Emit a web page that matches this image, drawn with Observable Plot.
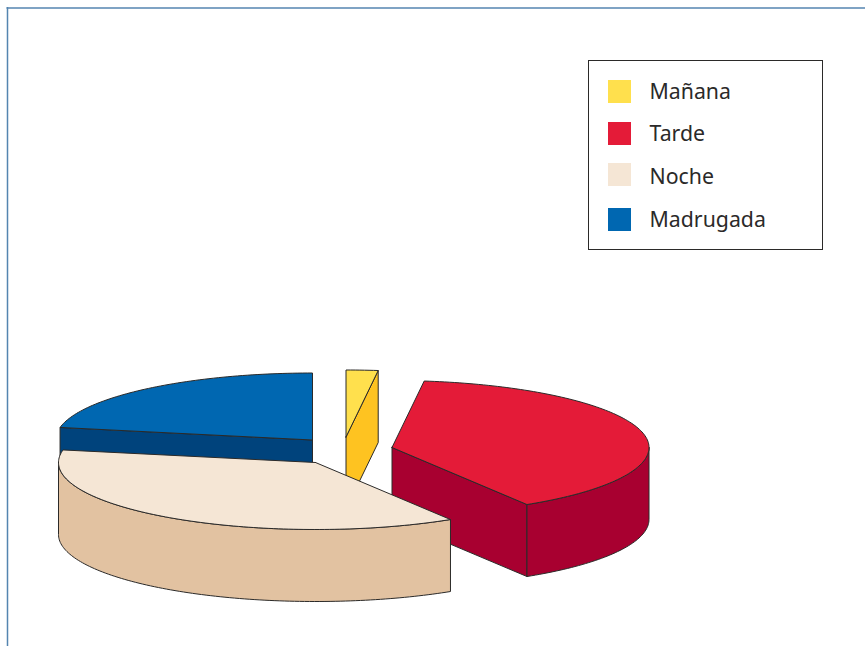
<!DOCTYPE html>
<html lang="es">
<head>
<meta charset="utf-8">
<script src="https://cdn.jsdelivr.net/npm/d3@7"></script>
<script src="https://cdn.jsdelivr.net/npm/@observablehq/plot@0.6"></script>
<style>
  html, body { margin: 0; padding: 0; background: #fff; }
  svg { display: block; }
</style>
</head>
<body>
<div id="chart"></div>
<script>
// Data
const categories = ["Mañana", "Tarde", "Noche", "Madrugada"];
const shares = [2, 39.2, 36.8, 22];

// Styles
const topColors = ["#ffe04d", "#e41b38", "#f5e6d5", "#0067b1"];
const sideColors = ["#fec321", "#a80030", "#e2c2a1", "#00437c"];
const ink = "#2b2a29";
const frameColor = "#5485b0";

// Pie layout: where each exploded slice's apex sits, ellipse radii and rim depth
const apexX = [345.5, 391.5, 315, 312];
const apexY = [436.5, 447, 462, 439.5];
const rx = 257, ry = 67, depth = 72;
const paintOrder = [0, 3, 1, 2];

// Legend layout
const legendBox = {x1: 588.5, x2: 822.5, y1: 60.5, y2: 249.5};
const swatchX = 608, swatchSize = 23;
const swatchY = [80, 122, 163, 208];
const labelX = 649;
const labelY = [91.5, 133.5, 176.5, 219.5];

// Slice angles from the shares (clockwise from 12 o'clock)
let running = 0;
const slices = categories.map((name, i) => {
  const a0 = running / 100 * 2 * Math.PI;
  running += shares[i];
  return {name, i, a0, a1: running / 100 * 2 * Math.PI};
});

const rim = (s, a, dy = 0) => [apexX[s.i] + rx * Math.sin(a), apexY[s.i] - ry * Math.cos(a) + dy];
const arc = (s, a0, a1, dy = 0) => {
  const n = Math.max(2, Math.ceil((a1 - a0) / 0.02));
  return d3.range(n + 1).map(k => rim(s, a0 + (a1 - a0) * k / n, dy));
};
const apex = (s, dy = 0) => [apexX[s.i], apexY[s.i] + dy];

// Faces of each slice, back to front
function faces(s) {
  const out = [];
  const side = sideColors[s.i], top = topColors[s.i];
  // cut faces: a cut is visible when the solid lies behind it
  const cut = a => [apex(s), rim(s, a), rim(s, a, depth), apex(s, depth)];
  if (s.name === "Mañana") out.push({pts: cut(s.a1), fill: side});
  if (s.name === "Tarde") out.push({pts: cut(s.a1), fill: side});
  if (s.name === "Madrugada") out.push({pts: cut(s.a0), fill: side});
  // outer wall: only the part on the front half of the ellipse
  const w0 = Math.max(s.a0, Math.PI / 2), w1 = Math.min(s.a1, 1.5 * Math.PI);
  if (w1 > w0) out.push({pts: [...arc(s, w0, w1), ...arc(s, w0, w1, depth).reverse()], fill: side});
  out.push({pts: [apex(s), ...arc(s, s.a0, s.a1)], fill: top});
  return out;
}

const polys = [];
paintOrder.forEach(i => faces(slices[i]).forEach((f, j) => {
  const id = `${i}-${j}`;
  [...f.pts, f.pts[0]].forEach(([x, y]) => polys.push({id, x, y, fill: f.fill}));
}));

const legendRows = categories.map((name, i) => ({name, color: topColors[i], y: swatchY[i], ly: labelY[i]}));

const chart = Plot.plot({
  width: 865,
  height: 646,
  margin: 0,
  x: {domain: [0, 865], range: [0, 865], axis: null},
  y: {domain: [0, 646], range: [0, 646], axis: null},
  color: {type: "identity"},
  style: {background: "#fff"},
  marks: [
    Plot.ruleX([7], {y1: 7, y2: 646, stroke: frameColor, strokeWidth: 1.5}),
    Plot.ruleY([7.5], {x1: 6.5, x2: 865, stroke: frameColor, strokeWidth: 1.5}),
    Plot.line(polys, {
      x: "x", y: "y", z: "id", fill: "fill",
      stroke: ink, strokeWidth: 1, strokeLinejoin: "round", curve: "linear"
    }),
    Plot.rect([legendBox], {
      x1: "x1", x2: "x2", y1: "y1", y2: "y2",
      fill: "#fff", stroke: ink, strokeWidth: 1
    }),
    Plot.rect(legendRows, {
      x1: () => swatchX, x2: () => swatchX + swatchSize,
      y1: "y", y2: d => d.y + swatchSize, fill: "color"
    }),
    Plot.text(legendRows, {
      x: () => labelX, y: "ly", text: "name",
      textAnchor: "start", fill: ink,
      fontFamily: "'Noto Sans', 'Open Sans', sans-serif", fontSize: 21.3
    })
  ]
});
document.getElementById("chart").append(chart);
</script>
</body>
</html>
